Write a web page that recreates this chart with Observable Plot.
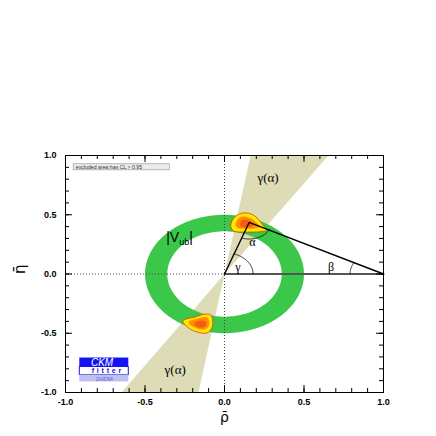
<!DOCTYPE html>
<html><head><meta charset="utf-8">
<script src="https://cdn.jsdelivr.net/npm/d3@7"></script>
<script src="https://cdn.jsdelivr.net/npm/@observablehq/plot@0.6"></script>
<style>body{margin:0;background:#fff;} svg{display:block}</style>
</head><body><div id="chart"></div>
<script>
// ---------- data ----------
const xTicks = [-1, -0.5, 0, 0.5, 1];
const yTicks = [-1, -0.5, 0, 0.5, 1];
const minorTicks = d3.range(-10, 11).map(i => i / 10);
const ringInner = 0.36;
const ringOuter = 0.5;
const wedgeUpper = [[0, 0], [0.164, 1], [0.654, 1]];
const wedgeLower = [[0, 0], [-0.164, -1], [-0.648, -1]];
const apex = [0.155, 0.435];
const yellowUpper = [[0.040,0.397],[0.046,0.447],[0.071,0.489],[0.109,0.513],[0.153,0.513],[0.191,0.489],[0.222,0.447],[0.247,0.405],[0.266,0.371],[0.222,0.356],[0.159,0.354],[0.096,0.354],[0.058,0.363]];
const orangeUpper = [[0.071,0.410],[0.077,0.447],[0.096,0.476],[0.134,0.484],[0.170,0.468],[0.198,0.437],[0.220,0.400],[0.188,0.384],[0.134,0.382],[0.092,0.385]];
const redUpper = [[0.097,0.418],[0.108,0.452],[0.140,0.458],[0.170,0.437],[0.180,0.408],[0.145,0.396],[0.108,0.397]];
const yellowLower = [[-0.262,-0.397],[-0.187,-0.363],[-0.118,-0.338],[-0.086,-0.346],[-0.074,-0.397],[-0.080,-0.456],[-0.112,-0.498],[-0.174,-0.489],[-0.225,-0.456]];
const orangeLower = [[-0.226,-0.405],[-0.166,-0.375],[-0.114,-0.366],[-0.096,-0.397],[-0.101,-0.444],[-0.126,-0.468],[-0.172,-0.460],[-0.208,-0.437]];
const redLower = [[-0.188,-0.416],[-0.143,-0.393],[-0.117,-0.407],[-0.121,-0.443],[-0.160,-0.451],[-0.182,-0.437]];

// ---------- geometry helpers ----------
const circ = (cx, cy, r, a0, a1, n = 60) => d3.range(n + 1).map(i => {
  const a = a0 + (a1 - a0) * i / n; return [cx + r * Math.cos(a), cy + r * Math.sin(a)];
});
const ring = [...circ(0, 0, ringOuter, 0, 2 * Math.PI, 160), ...circ(0, 0, ringInner, 2 * Math.PI, 0, 160)];
const angApex = Math.atan2(apex[1], apex[0]);
const gammaArc = circ(0, 0, 0.18, 0, angApex);
const alphaArc = circ(apex[0], apex[1], 0.14, Math.atan2(-apex[1], -apex[0]), Math.atan2(-apex[1], 1 - apex[0]));
const betaArc = circ(1, 0, 0.21, Math.PI, Math.atan2(apex[1], apex[0] - 1));

const W = 436, H = 436, mL = 65, mR = 53, mT = 155, mB = 44;
const innerW = W - mL - mR, innerH = H - mT - mB;
const green = "#3bc84a", beige = "#dedcb6";
const X = d => d[0], Y = d => d[1];
const serif = "Liberation Serif, serif";
const sans = "Liberation Sans, Arial, sans-serif";

const poly = (data, opts) => Plot.line(data, {x: X, y: Y, ...opts});

const plot = Plot.plot({
  width: W, height: H,
  marginLeft: mL, marginRight: mR, marginTop: mT, marginBottom: mB,
  x: {domain: [-1, 1], label: null},
  y: {domain: [-1, 1], label: null},
  style: {background: "white", color: "black"},
  marks: [
    poly(wedgeUpper, {fill: beige, stroke: "none", curve: "linear-closed"}),
    poly(wedgeLower, {fill: beige, stroke: "none", curve: "linear-closed"}),
    poly(ring, {fill: green, stroke: "none"}),
    poly(yellowUpper, {fill: "#ffe800", stroke: "#e83a00", strokeWidth: 0.8, curve: "catmull-rom-closed"}),
    poly(orangeUpper, {fill: "#ff8c00", stroke: "none", curve: "catmull-rom-closed"}),
    poly(redUpper, {fill: "#f65a14", stroke: "none", curve: "catmull-rom-closed"}),
    poly(yellowLower, {fill: "#ffe800", stroke: "#e83a00", strokeWidth: 0.8, curve: "catmull-rom-closed"}),
    poly(orangeLower, {fill: "#ff8c00", stroke: "none", curve: "catmull-rom-closed"}),
    poly(redLower, {fill: "#f65a14", stroke: "none", curve: "catmull-rom-closed"}),
    // dotted axes
    Plot.ruleX([0], {stroke: "#444", strokeDasharray: "1,2", strokeWidth: 1}),
    Plot.ruleY([0], {x1: -1, x2: 0, stroke: "#444", strokeDasharray: "1,2", strokeWidth: 1}),
    // triangle
    poly([[0, 0], [1, 0]], {stroke: "#555", strokeWidth: 2}),
    poly([[0, 0], apex, [1, 0]], {stroke: "black", strokeWidth: 1.4}),
    poly(gammaArc, {stroke: "black", strokeWidth: 0.8}),
    poly(alphaArc, {stroke: "black", strokeWidth: 0.8}),
    poly(betaArc, {stroke: "black", strokeWidth: 0.8}),
    Plot.text(["γ"], {x: 0.085, y: 0.06, fontFamily: serif, fontSize: 12}),
    Plot.text(["α"], {x: 0.175, y: 0.265, fontFamily: serif, fontSize: 12}),
    Plot.text(["β"], {x: 0.67, y: 0.06, fontFamily: serif, fontSize: 12}),
    Plot.text(["γ(α)"], {x: 0.274, y: 0.81, fontFamily: serif, fontSize: 13}),
    Plot.text(["γ(α)"], {x: -0.31, y: -0.81, fontFamily: serif, fontSize: 13}),
    // legend box
    Plot.rect([0], {x1: -0.948, x2: -0.344, y1: 0.875, y2: 0.926, fill: "#ececec", stroke: "#9a9a9a", strokeWidth: 0.7}),
    Plot.text(["excluded area has CL > 0.95"], {x: -0.935, y: 0.9005, textAnchor: "start", fontSize: 5.2, fontFamily: sans, fill: "#333"}),
    // CKM fitter logo
    Plot.rect([0], {x1: -0.91, x2: -0.602, y1: -0.785, y2: -0.709, fill: "#1414f0"}),
    Plot.rect([0], {x1: -0.91, x2: -0.602, y1: -0.852, y2: -0.785, fill: "white", stroke: "#1414f0", strokeWidth: 1}),
    Plot.rect([0], {x1: -0.91, x2: -0.602, y1: -0.911, y2: -0.852, fill: "#c0c0f0"}),
    Plot.text(["CKM"], {x: -0.77, y: -0.747, fontStyle: "italic", fill: "white", fontSize: 10, fontFamily: sans}),
    Plot.text(["fitter"], {x: -0.835, y: -0.819, textAnchor: "start", fill: "#1414f0", fontWeight: "bold", fontSize: 7, fontFamily: sans}),
    Plot.text(["2HDM"], {x: -0.756, y: -0.883, fill: "#6464d8", fontSize: 6, fontFamily: sans}),
    // frame & ticks
    Plot.frame({stroke: "black", strokeWidth: 1}),
    Plot.ruleX(xTicks, {x: d => d, insetTop: innerH - 7}),
    Plot.ruleX(minorTicks, {x: d => d, insetTop: innerH - 4}),
    Plot.ruleX(xTicks, {x: d => d, insetBottom: innerH - 7}),
    Plot.ruleX(minorTicks, {x: d => d, insetBottom: innerH - 4}),
    Plot.ruleY(yTicks, {y: d => d, insetRight: innerW - 7}),
    Plot.ruleY(minorTicks, {y: d => d, insetRight: innerW - 4}),
    Plot.ruleY(yTicks, {y: d => d, insetLeft: innerW - 7}),
    Plot.ruleY(minorTicks, {y: d => d, insetLeft: innerW - 4}),
    Plot.axisX(xTicks, {anchor: "bottom", tickSize: 0, tickPadding: 6, tickFormat: d => d.toFixed(1), fontWeight: "bold", fontSize: 9, fontFamily: sans, label: null}),
    Plot.axisY(yTicks, {anchor: "left", tickSize: 0, tickPadding: 9, tickFormat: d => d.toFixed(1), fontWeight: "bold", fontSize: 9, fontFamily: sans, label: null}),
    Plot.text(["ρ\u0304"], {frameAnchor: "bottom", dy: 29, fontSize: 14, fontFamily: "DejaVu Sans, sans-serif"}),
    Plot.text(["η\u0304"], {frameAnchor: "left", dx: -45, rotate: -90, fontSize: 15, fontFamily: "DejaVu Sans, sans-serif"})
  ]
});

const svg = d3.select(plot);
svg.selectAll("text").filter(function () { return this.textContent === "fitter"; })
  .attr("letter-spacing", "2.8px");

// |V_ub| label with subscript, positioned through the plot's scales
const sx = plot.scale("x"), sy = plot.scale("y");
const t = svg.append("text")
  .attr("x", sx.apply(-0.28)).attr("y", sy.apply(0.27))
  .attr("text-anchor", "middle").attr("font-family", sans).attr("font-size", 14).attr("fill", "black");
t.append("tspan").text("|V");
t.append("tspan").attr("font-size", 9).attr("dy", 3).text("ub");
t.append("tspan").attr("dy", -3).text("|");

document.getElementById("chart").append(plot);
</script>
</body></html>
